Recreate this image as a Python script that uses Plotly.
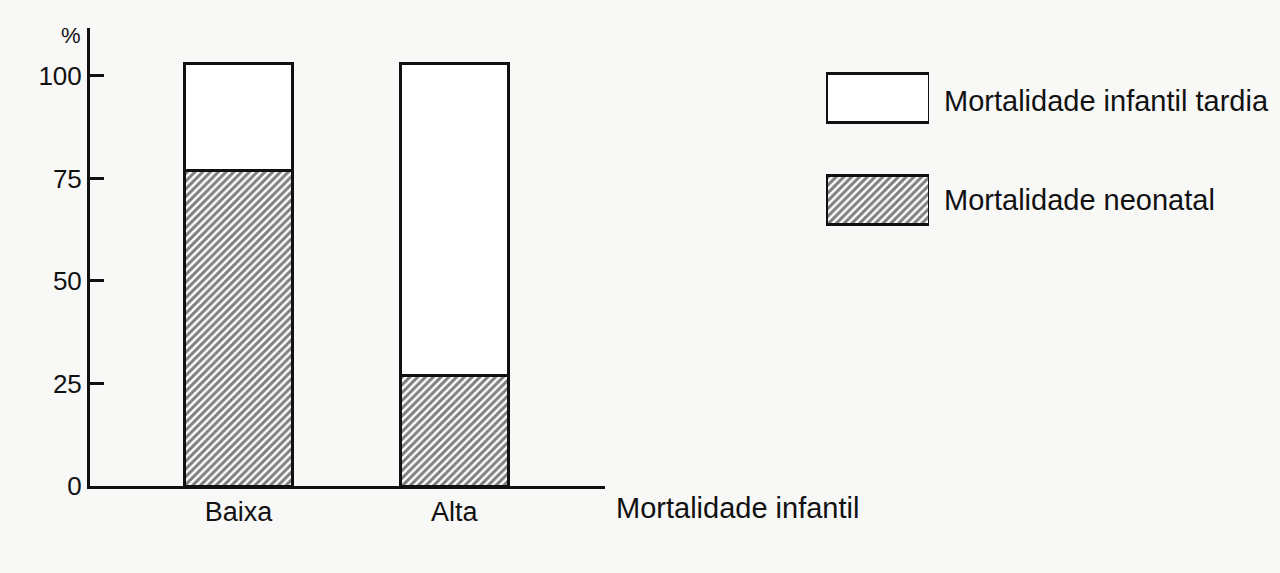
import plotly.graph_objects as go

# Data (percent of infant mortality)
categories = ["Baixa", "Alta"]
neonatal = [77, 27]          # Mortalidade neonatal
tardia = [26, 76]            # Mortalidade infantil tardia
y_ticks = [0, 25, 50, 75, 100]
series_names = ["Mortalidade infantil tardia", "Mortalidade neonatal"]
x_title = "Mortalidade infantil"
y_unit = "%"

W, H = 1280, 573
BG = "#f8f8f7"
FONT = "Liberation Sans, Arial, sans-serif"
NARROW = "Liberation Sans Narrow, Liberation Sans, Arial, sans-serif"

def px_x(p):
    return p / W

def px_y(p):
    return 1 - p / H

hatch = dict(shape="/", fgcolor="#000000", bgcolor="#ffffff", size=5.5, solidity=0.55)

fig = go.Figure()

# Main stacked bars
fig.add_trace(go.Bar(
    x=categories, y=neonatal, name=series_names[1], width=0.5,
    marker=dict(color="#ffffff", pattern=hatch, line=dict(color="#111111", width=3)),
    xaxis="x", yaxis="y", showlegend=False,
))
fig.add_trace(go.Bar(
    x=categories, y=tardia, name=series_names[0], width=0.5,
    marker=dict(color="#ffffff", line=dict(color="#111111", width=3)),
    xaxis="x", yaxis="y", showlegend=False,
))

# Legend swatches (drawn as bars on a small auxiliary axis)
fig.add_trace(go.Bar(
    x=[1], y=[1], orientation="h", width=0.49, base=[0],
    marker=dict(color="#ffffff", line=dict(color="#111111", width=3)),
    xaxis="x2", yaxis="y2", showlegend=False, hoverinfo="skip",
))
fig.add_trace(go.Bar(
    x=[1], y=[0], orientation="h", width=0.49, base=[0],
    marker=dict(color="#ffffff", pattern=hatch, line=dict(color="#111111", width=3)),
    xaxis="x2", yaxis="y2", showlegend=False, hoverinfo="skip",
))

fig.update_layout(
    width=W, height=H,
    margin=dict(l=0, r=0, t=0, b=0, autoexpand=False),
    paper_bgcolor=BG, plot_bgcolor=BG,
    barmode="stack",
    font=dict(family=FONT, color="#111111", size=22),
    showlegend=False,
    xaxis=dict(
        domain=[px_x(90), px_x(605)],
        range=[-0.688, 1.698],
        showgrid=False, zeroline=False,
        showline=True, linecolor="#111111", linewidth=3,
        ticks="", tickfont=dict(size=27, family=FONT),
        ticklabelstandoff=0, automargin=False,
        anchor="y",
    ),
    yaxis=dict(
        domain=[px_y(486), px_y(28)],
        range=[0, 111.7],
        tickvals=y_ticks,
        showgrid=False, zeroline=False,
        showline=True, linecolor="#111111", linewidth=3,
        ticks="inside", ticklen=14, tickwidth=3, tickcolor="#111111",
        tickfont=dict(size=26, family=NARROW),
        ticklabelstandoff=0, automargin=False,
        anchor="x",
    ),
    xaxis2=dict(
        domain=[px_x(826), px_x(929)],
        range=[0, 1], visible=False, anchor="y2", automargin=False,
    ),
    yaxis2=dict(
        domain=[px_y(251), px_y(47)],
        range=[-0.5, 1.5], visible=False, anchor="x2", automargin=False,
    ),
    annotations=[
        dict(text=y_unit, x=px_x(71), y=px_y(36), xref="paper", yref="paper",
             xanchor="center", yanchor="middle",
             showarrow=False, font=dict(size=22, family=NARROW)),
        dict(text=x_title, x=px_x(614), y=px_y(508), xref="paper", yref="paper",
             xanchor="left", yanchor="middle", showarrow=False,
             font=dict(size=29, family=FONT)),
        dict(text=series_names[0], x=px_x(942), y=px_y(101), xref="paper", yref="paper",
             xanchor="left", yanchor="middle", showarrow=False,
             font=dict(size=29, family=FONT)),
        dict(text=series_names[1], x=px_x(942), y=px_y(200), xref="paper", yref="paper",
             xanchor="left", yanchor="middle", showarrow=False,
             font=dict(size=29, family=FONT)),
    ],
)

fig.write_html("out.html")
